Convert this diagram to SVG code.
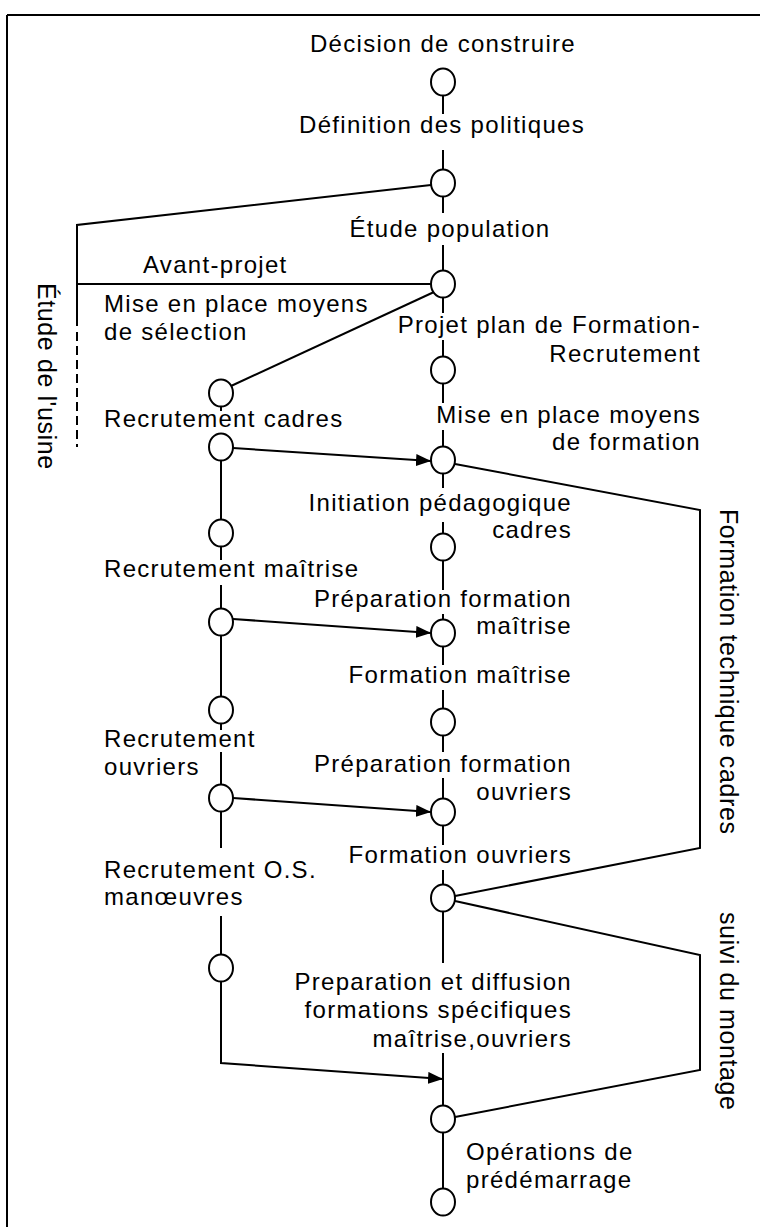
<svg xmlns="http://www.w3.org/2000/svg" width="760" height="1227" viewBox="0 0 760 1227">
<style>
text{font-family:"Liberation Sans",Arial,sans-serif;font-size:24px;fill:#000;letter-spacing:1.3px}
.m{text-anchor:middle}.e{text-anchor:end}
.v{font-size:25px;letter-spacing:0.6px}
.n{fill:#fff;stroke:#000;stroke-width:2}
.c{fill:none;stroke:#000;stroke-width:2}
.d{stroke-dasharray:9 5}
</style>
<defs>
<marker id="ah" markerUnits="userSpaceOnUse" markerWidth="16" markerHeight="13" refX="15" refY="6" orient="auto">
<path d="M0,0 L15,6 L0,12 z" fill="#000"/>
</marker>
</defs>
<rect width="760" height="1227" fill="#fff"/>
<g id="frame" class="c">
<path d="M7,15 H760 M7,15 V1227"/>
</g>
<g id="connectors" class="c">
<path d="M443,95 V114 M443,150 V169 M443,196 V213 M443,245 V270 M443,297 V313 M443,340 V357 M443,383 V403 M443,430 V447 M443,473 V488 M443,522 V534 M443,560 V590 M443,614 V620 M443,646 V665 M443,690 V709 M443,735 V752 M443,778 V799 M443,825 V845 M443,870 V885 M443,911 V963 M443,1053 V1106 M443,1132 V1189"/>
<path d="M221,406 V411 M221,460 V520 M221,546 V560 M221,585 V609 M221,635 V697 M221,723 V730 M221,752 V785 M221,811 V848 M221,916 V955"/>
<path d="M431,185 L77,225 V326"/>
<path class="d" d="M77,332 V447"/>
<path d="M77,284 H431"/>
<path d="M434,292 L231,386"/>
<path d="M233,448 L431,461" marker-end="url(#ah)"/>
<path d="M233,619 L431,633" marker-end="url(#ah)"/>
<path d="M233,798 L431,812" marker-end="url(#ah)"/>
<path d="M221,981 V1063 L443,1079" marker-end="url(#ah)"/>
<path d="M455,464 L700,510 V848 L455,896"/>
<path d="M455,901 L700,955 V1070 L455,1117"/>
</g>
<g id="n1"><ellipse class="n" cx="443" cy="82" rx="12" ry="13.5"/><text class="m" x="443" y="52">Décision de construire</text></g>
<g id="n2"><ellipse class="n" cx="443" cy="183" rx="12" ry="13.5"/><text class="m" x="442" y="133">Définition des politiques</text></g>
<g id="n3"><ellipse class="n" cx="443" cy="284" rx="12" ry="13.5"/><text class="m" x="450" y="237">Étude population</text></g>
<g id="n4"><ellipse class="n" cx="443" cy="370" rx="12" ry="13.5"/><text class="e" x="701" y="333">Projet plan de Formation-</text><text class="e" x="701" y="362">Recrutement</text></g>
<g id="n5"><ellipse class="n" cx="443" cy="460" rx="12" ry="13.5"/><text class="e" x="701" y="423">Mise en place moyens</text><text class="e" x="701" y="450">de formation</text></g>
<g id="n6"><ellipse class="n" cx="443" cy="547" rx="12" ry="13.5"/><text class="e" x="572" y="511">Initiation pédagogique</text><text class="e" x="572" y="538">cadres</text></g>
<g id="n7"><ellipse class="n" cx="443" cy="633" rx="12" ry="13.5"/><text class="e" x="572" y="607">Préparation formation</text><text class="e" x="572" y="634">maîtrise</text></g>
<g id="n8"><ellipse class="n" cx="443" cy="722" rx="12" ry="13.5"/><text class="e" x="572" y="683">Formation maîtrise</text></g>
<g id="n9"><ellipse class="n" cx="443" cy="812" rx="12" ry="13.5"/><text class="e" x="572" y="772">Préparation formation</text><text class="e" x="572" y="800">ouvriers</text></g>
<g id="n10"><ellipse class="n" cx="443" cy="898" rx="12" ry="13.5"/><text class="e" x="572" y="863">Formation ouvriers</text></g>
<g id="n11"><ellipse class="n" cx="443" cy="1119" rx="12" ry="13.5"/><text class="e" x="572" y="990">Preparation et diffusion</text><text class="e" x="572" y="1018">formations spécifiques</text><text class="e" x="572" y="1047">maîtrise,ouvriers</text></g>
<g id="n12"><ellipse class="n" cx="443" cy="1202" rx="12" ry="13.5"/><text x="466" y="1160">Opérations de</text><text x="466" y="1188">prédémarrage</text></g>
<g id="l1"><ellipse class="n" cx="221" cy="393" rx="12" ry="13.5"/><text x="104" y="312">Mise en place moyens</text><text x="104" y="340">de sélection</text></g>
<g id="l2"><ellipse class="n" cx="221" cy="447" rx="12" ry="13.5"/><text x="104" y="427">Recrutement cadres</text></g>
<g id="l3"><ellipse class="n" cx="221" cy="533" rx="12" ry="13.5"/></g>
<g id="l4"><ellipse class="n" cx="221" cy="622" rx="12" ry="13.5"/><text x="104" y="577">Recrutement maîtrise</text></g>
<g id="l5"><ellipse class="n" cx="221" cy="710" rx="12" ry="13.5"/></g>
<g id="l6"><ellipse class="n" cx="221" cy="798" rx="12" ry="13.5"/><text x="104" y="747">Recrutement</text><text x="104" y="775">ouvriers</text></g>
<g id="l7"><ellipse class="n" cx="221" cy="968" rx="12" ry="13.5"/><text x="104" y="878">Recrutement O.S.</text><text x="104" y="905">manœuvres</text></g>
<g id="labels">
<text x="143" y="273">Avant-projet</text>
<text class="v" transform="translate(38,283) rotate(90)">Étude de l'usine</text>
<text class="v" transform="translate(720,509) rotate(90)">Formation technique cadres</text>
<text class="v" transform="translate(720,912) rotate(90)">suivi du montage</text>
</g>
</svg>
